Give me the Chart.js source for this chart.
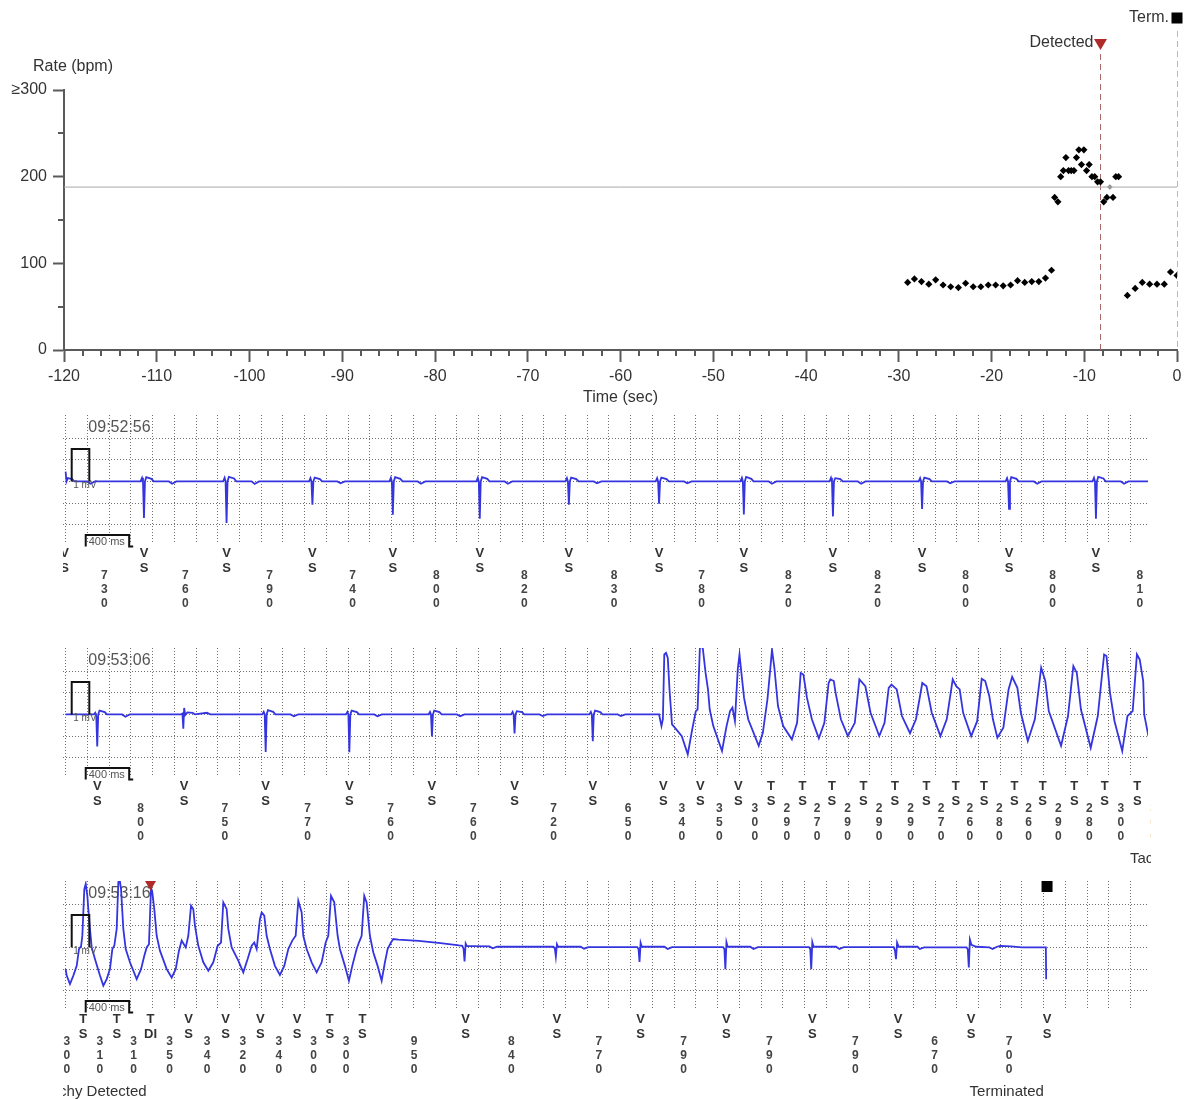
<!DOCTYPE html>
<html>
<head>
<meta charset="utf-8">
<title>Rate plot and EGM strips</title>
<script src="https://cdn.jsdelivr.net/npm/chart.js@4.4.0/dist/chart.umd.min.js"></script>
<style>
  body { margin: 0; background: #fff; }
  #wrap { position: relative; width: 1188px; height: 1099px; overflow: hidden; }
  #wrap canvas { position: absolute; left: 0; }
</style>
</head>
<body>
<div id="wrap">
  <canvas id="rate" width="1188" height="410" style="top:0px"></canvas>
  <canvas id="strip1" width="1188" height="233" style="top:400px"></canvas>
  <canvas id="strip2" width="1188" height="233" style="top:633px"></canvas>
  <canvas id="strip3" width="1188" height="233" style="top:866px"></canvas>
</div>
<script>
const FONT = '"Liberation Sans", Arial, sans-serif';

// ---- rate plot (sec before termination, bpm) ----
const rateTime = [-29.04, -28.31, -27.55, -26.76, -26.02, -25.22, -24.40, -23.57, -22.79, -21.97,
  -21.15, -20.35, -19.55, -18.74, -17.94, -17.19, -16.42, -15.66, -14.90, -14.18, -13.53,
  -13.19, -12.84, -12.54, -12.25, -11.98, -11.69, -11.40, -11.11, -10.84, -10.58, -10.30, -10.04,
  -9.75, -9.47, -9.17, -8.87, -8.56, -8.25, -7.90, -7.56, -6.90, -6.60, -6.30,
  -5.35, -4.51, -3.74, -2.95, -2.16, -1.37, -0.70, 0.00];
const rateBpm = [78, 82, 79, 76, 81, 75, 73, 72, 77, 73,
  73, 75, 75, 74, 75, 80, 78, 79, 79, 83, 92,
  176, 171, 200, 207, 222, 207, 207, 207, 222, 231, 214, 231,
  207, 214, 200, 200, 194, 194, 171, 176, 176, 200, 200,
  63, 71, 78, 76, 76, 76, 90, 86];
const greyTime = [-7.24];
const greyBpm = [188];
const thresholdBpm = 188;
const detectTime = -8.25;
const termTime = 0;
const rateTicks = [0, 100, 200, 300];

// ---- EGM strips: time in s from strip start, amplitude in mV ----
const stripStamps = ['09:52:56', '09:53:06', '09:53:16'];
const gridMv = [-1.333, -0.667, 0, 0.667, 1.333];
const calPulse = [[0.056, 0], [0.056, 1.0], [0.218, 1.0], [0.218, 0]];

const strip1Marks = [-0.009, 0.721, 1.481, 2.271, 3.011, 3.811, 4.631, 5.461, 6.241, 7.061, 7.881, 8.681, 9.481, 10.291];
const strip1Kinds = ['VS', 'VS', 'VS', 'VS', 'VS', 'VS', 'VS', 'VS', 'VS', 'VS', 'VS', 'VS', 'VS', 'VS'];
const strip1Intervals = [730, 760, 790, 740, 800, 820, 830, 780, 820, 820, 800, 800, 810];
const strip1Trace = [
  [0.000, 0.30], [0.008, 0], [0.020, 0.10], [0.060, 0.07], [0.080, 0], [0.200, 0], [0.230, -0.07], [0.270, 0],
  [0.690, 0], [0.703, 0.11], [0.712, 0], [0.721, -1.13], [0.730, 0], [0.742, 0.13], [0.790, 0.08], [0.810, 0], [0.950, 0], [0.980, -0.07], [1.020, 0],
  [1.450, 0], [1.463, 0.11], [1.472, 0], [1.481, -1.28], [1.490, 0], [1.502, 0.14], [1.550, 0.09], [1.570, 0], [1.710, 0], [1.740, -0.08], [1.780, 0],
  [2.240, 0], [2.253, 0.10], [2.262, 0], [2.271, -0.72], [2.280, 0], [2.292, 0.12], [2.340, 0.07], [2.360, 0], [2.500, 0], [2.530, -0.06], [2.570, 0],
  [2.980, 0], [2.993, 0.11], [3.002, 0], [3.011, -1.03], [3.020, 0], [3.032, 0.13], [3.080, 0.08], [3.100, 0], [3.240, 0], [3.270, -0.07], [3.310, 0],
  [3.780, 0], [3.793, 0.11], [3.802, 0], [3.811, -1.15], [3.820, 0], [3.832, 0.13], [3.880, 0.08], [3.900, 0], [4.040, 0], [4.070, -0.07], [4.110, 0],
  [4.600, 0], [4.613, 0.10], [4.622, 0], [4.631, -0.72], [4.640, 0], [4.652, 0.12], [4.700, 0.07], [4.720, 0], [4.860, 0], [4.890, -0.06], [4.930, 0],
  [5.430, 0], [5.443, 0.10], [5.452, 0], [5.461, -0.69], [5.470, 0], [5.482, 0.12], [5.530, 0.07], [5.550, 0], [5.690, 0], [5.720, -0.06], [5.760, 0],
  [6.210, 0], [6.223, 0.11], [6.232, 0], [6.241, -1.02], [6.250, 0], [6.262, 0.14], [6.310, 0.08], [6.330, 0], [6.470, 0], [6.500, -0.07], [6.540, 0],
  [7.030, 0], [7.043, 0.11], [7.052, 0], [7.061, -1.08], [7.070, 0], [7.082, 0.10], [7.130, 0.07], [7.150, 0], [7.290, 0], [7.320, -0.07], [7.360, 0],
  [7.850, 0], [7.863, 0.10], [7.872, 0], [7.881, -0.85], [7.890, 0], [7.902, 0.12], [7.950, 0.07], [7.970, 0], [8.110, 0], [8.140, -0.06], [8.180, 0],
  [8.650, 0], [8.663, 0.10], [8.672, 0], [8.681, -0.85], [8.690, 0], [8.702, 0.13], [8.750, 0.08], [8.770, 0], [8.910, 0], [8.940, -0.07], [8.980, 0],
  [9.450, 0], [9.463, 0.11], [9.472, 0], [9.481, -1.15], [9.490, 0], [9.502, 0.14], [9.550, 0.09], [9.570, 0], [9.710, 0], [9.740, -0.07], [9.780, 0], [9.960, 0]
];

const strip2Marks = [0.291, 1.091, 1.841, 2.611, 3.371, 4.131, 4.851, 5.501, 5.841, 6.191, 6.491, 6.781, 7.051, 7.341,
  7.631, 7.921, 8.191, 8.451, 8.731, 8.991, 9.281, 9.561, 9.861, 10.161];
const strip2Kinds = ['VS', 'VS', 'VS', 'VS', 'VS', 'VS', 'VS', 'VS', 'VS', 'VS', 'TS', 'TS', 'TS', 'TS',
  'TS', 'TS', 'TS', 'TS', 'TS', 'TS', 'TS', 'TS', 'TS', 'TS'];
const strip2Intervals = [800, 750, 770, 760, 760, 720, 650, 340, 350, 300, 290, 270, 290, 290, 290, 270, 260, 280, 260, 290, 280, 300, 300];
const strip2Trace = [
  [0.000, 0],
  [0.260, 0], [0.273, 0.05], [0.282, -0.05], [0.291, -0.99], [0.300, 0], [0.312, 0.12], [0.360, 0.07], [0.380, 0], [0.520, 0], [0.550, -0.07], [0.590, 0],
  [1.060, 0], [1.075, 0.03], [1.083, -0.44], [1.091, 0.20], [1.100, -0.02], [1.120, 0.06], [1.170, 0.05], [1.190, 0], [1.300, 0.05], [1.330, 0],
  [1.810, 0], [1.823, 0.08], [1.832, 0], [1.841, -1.16], [1.850, 0], [1.862, 0.13], [1.910, 0.08], [1.930, 0], [2.070, 0], [2.100, -0.06], [2.140, 0],
  [2.580, 0], [2.593, 0.08], [2.602, 0], [2.611, -1.17], [2.620, 0], [2.632, 0.12], [2.680, 0.07], [2.700, 0], [2.840, 0], [2.870, -0.06], [2.910, 0],
  [3.340, 0], [3.353, 0.08], [3.362, 0], [3.371, -0.68], [3.380, 0], [3.392, 0.12], [3.440, 0.07], [3.460, 0], [3.600, 0], [3.630, -0.06], [3.670, 0],
  [4.100, 0], [4.113, 0.08], [4.122, 0], [4.131, -0.59], [4.140, 0], [4.152, 0.10], [4.200, 0.07], [4.220, 0], [4.360, 0], [4.390, -0.05], [4.430, 0],
  [4.820, 0], [4.833, 0.08], [4.842, 0], [4.851, -0.83], [4.860, 0], [4.872, 0.12], [4.920, 0.07], [4.940, 0], [5.080, 0], [5.110, -0.05], [5.150, 0],
  [5.461, 0], [5.483, -0.36], [5.496, -0.15], [5.509, 1.85], [5.525, 1.90], [5.541, 1.74], [5.557, 0.77], [5.580, -0.31], [5.606, -0.41],
  [5.670, -0.67], [5.725, -1.23], [5.766, -0.46], [5.799, 0.10], [5.815, 0.15], [5.837, 2.10], [5.863, 2.05], [5.889, 1.28], [5.911, 0.77],
  [5.927, 0.15], [5.960, -0.36], [6.040, -1.13], [6.082, -0.36], [6.114, 0.10], [6.136, 0.21], [6.159, -0.21], [6.185, 1.39], [6.201, 1.85],
  [6.217, 1.33], [6.243, 0.51], [6.281, -0.15], [6.378, -0.97], [6.416, -0.56], [6.458, 0.46], [6.481, 1.28], [6.500, 2.00], [6.522, 1.44],
  [6.555, 0.26], [6.603, -0.36], [6.683, -0.77], [6.731, -0.26], [6.764, 1.28], [6.789, 1.23], [6.822, 0.51], [6.867, -0.15], [6.931, -0.74],
  [6.982, -0.26], [7.021, 0.97], [7.037, 1.08], [7.069, 1.03], [7.085, 0.67], [7.134, -0.15], [7.198, -0.67], [7.262, -0.26], [7.304, 1.08],
  [7.359, 0.87], [7.407, 0.05], [7.487, -0.67], [7.536, -0.26], [7.574, 0.82], [7.600, 0.92], [7.648, 0.77], [7.696, -0.05], [7.770, -0.58],
  [7.825, -0.15], [7.883, 0.97], [7.922, 0.87], [7.970, 0.05], [8.050, -0.67], [8.108, -0.15], [8.163, 1.08], [8.195, 0.87], [8.227, 0.77],
  [8.259, 0.05], [8.333, -0.67], [8.388, -0.21], [8.430, 1.10], [8.462, 1.03], [8.500, 0.56], [8.533, -0.15], [8.574, -0.72], [8.629, -0.41],
  [8.677, 0.77], [8.710, 1.16], [8.758, 0.82], [8.790, 0.05], [8.854, -0.82], [8.919, -0.15], [8.977, 1.44], [9.015, 1.03], [9.047, 0.10],
  [9.160, -0.97], [9.224, -0.05], [9.273, 1.49], [9.305, 1.28], [9.343, 0.15], [9.433, -1.03], [9.498, -0.05], [9.556, 1.85], [9.578, 1.80],
  [9.610, 0.67], [9.652, -0.21], [9.723, -1.13], [9.771, -0.05], [9.819, 0.10], [9.858, 1.85], [9.884, 1.69], [9.916, 1.03], [9.925, 0],
  [9.964, -0.67]
];

const strip3Marks = [-0.139, 0.161, 0.471, 0.781, 1.131, 1.471, 1.791, 2.131, 2.431, 2.731, 3.681, 4.521, 5.291, 6.081, 6.871, 7.661, 8.331, 9.031];
const strip3Kinds = ['TS', 'TS', 'TS', 'TDI', 'VS', 'VS', 'VS', 'VS', 'TS', 'TS', 'VS', 'VS', 'VS', 'VS', 'VS', 'VS', 'VS', 'VS'];
const strip3Intervals = [300, 310, 310, 350, 340, 320, 340, 300, 300, 950, 840, 770, 790, 790, 790, 670, 700];
const strip3Trace = [
  [0.000, -0.67], [0.010, -0.87], [0.040, -1.13], [0.071, -0.87], [0.102, -0.57], [0.123, -0.05], [0.142, 0.03], [0.154, 0.36],
  [0.172, 1.80], [0.185, 1.96], [0.200, 1.59], [0.209, 1.18], [0.224, 0.57], [0.240, 0.00], [0.270, -0.36], [0.316, -0.87],
  [0.347, -1.18], [0.378, -0.98], [0.408, -0.67], [0.430, -0.05], [0.448, 0.05], [0.470, 0.57], [0.485, 2.01], [0.494, 2.16],
  [0.510, 1.80], [0.531, 0.57], [0.553, -0.05], [0.592, -0.46], [0.654, -0.98], [0.694, -0.67], [0.724, -0.26], [0.746, 0.00],
  [0.767, 0.10], [0.786, 1.85], [0.798, 1.70], [0.816, 1.18], [0.838, 0.36], [0.868, -0.10], [0.930, -0.67], [0.976, -0.93],
  [1.013, -0.67], [1.043, -0.10], [1.068, 0.21], [1.105, 0.00], [1.129, 0.36], [1.154, 1.29], [1.175, 1.18], [1.190, 0.67],
  [1.221, 0.05], [1.267, -0.46], [1.313, -0.72], [1.359, -0.46], [1.399, 0.05], [1.430, 0.15], [1.451, 1.39], [1.482, 1.18],
  [1.497, 0.57], [1.528, 0.00], [1.589, -0.41], [1.635, -0.77], [1.675, -0.36], [1.712, 0.05], [1.736, 0.15], [1.758, -0.05],
  [1.788, 0.87], [1.804, 1.08], [1.828, 0.98], [1.850, 0.36], [1.880, -0.05], [1.926, -0.57], [1.972, -0.85], [2.012, -0.57],
  [2.049, -0.05], [2.086, 0.21], [2.117, 0.36], [2.141, 1.44], [2.172, 1.08], [2.187, 0.36], [2.218, -0.05], [2.264, -0.46],
  [2.310, -0.77], [2.356, -0.46], [2.393, 0.15], [2.417, 0.36], [2.442, 1.59], [2.472, 1.39], [2.503, 0.36], [2.524, -0.05],
  [2.570, -0.57], [2.607, -1.03], [2.638, -0.57], [2.678, -0.05], [2.699, 0.15], [2.724, 0.36], [2.748, 1.59], [2.770, 1.39],
  [2.800, 0.36], [2.831, -0.15], [2.871, -0.57], [2.908, -1.03], [2.938, -0.46], [2.963, -0.05], [2.994, 0.15], [3.015, 0.26],
  [3.061, 0.24], [3.250, 0.20], [3.450, 0.13], [3.620, 0.06],
  [3.650, 0.05], [3.662, -0.05], [3.671, -0.43], [3.681, 0.12], [3.692, 0.04], [3.740, 0.04], [3.900, 0.03], [3.930, -0.03], [3.970, 0.02],
  [4.490, 0.02], [4.502, -0.04], [4.511, -0.28], [4.521, 0.10], [4.532, 0.02], [4.740, 0.02], [4.770, -0.04], [4.810, 0.01],
  [5.260, 0.01], [5.272, -0.05], [5.281, -0.45], [5.291, 0.14], [5.302, 0.02], [5.510, 0.02], [5.540, -0.05], [5.580, 0.01],
  [6.050, 0.01], [6.062, -0.05], [6.071, -0.67], [6.081, 0.16], [6.092, 0.02], [6.300, 0.02], [6.330, -0.05], [6.370, 0.01],
  [6.840, 0.01], [6.852, -0.05], [6.861, -0.67], [6.871, 0.16], [6.882, 0.02], [7.090, 0.02], [7.120, -0.05], [7.160, 0.01],
  [7.620, 0.01], [7.632, -0.10], [7.641, -0.36], [7.651, 0.15], [7.665, 0.02], [7.840, 0.02], [7.860, -0.05], [7.900, 0],
  [8.290, 0], [8.302, -0.06], [8.311, -0.62], [8.321, 0.24], [8.335, 0.08], [8.380, 0.02], [8.500, 0], [8.530, -0.05], [8.570, 0.02],
  [8.600, 0.05], [8.700, 0.03], [8.800, 0], [9.020, 0], [9.023, -0.98]
];

const toXY = arr => arr.map(p => ({ x: p[0], y: p[1] }));

// ---------- rate plot ----------
const rateDecor = {
  id: 'rateDecor',
  beforeDatasetsDraw(chart) {
    const { ctx, chartArea: a, scales: { x } } = chart;
    ctx.save();
    ctx.lineWidth = 1;
    ctx.setLineDash([6, 4]);
    const xd = Math.round(x.getPixelForValue(detectTime)) + 0.5;
    ctx.strokeStyle = '#a86868';
    ctx.beginPath(); ctx.moveTo(xd, a.top - 36); ctx.lineTo(xd, a.bottom); ctx.stroke();
    const xt = Math.round(x.getPixelForValue(termTime)) + 0.5;
    ctx.strokeStyle = '#b8b8b8';
    ctx.beginPath(); ctx.moveTo(xt, a.top - 59); ctx.lineTo(xt, a.bottom); ctx.stroke();
    ctx.restore();
  },
  afterDraw(chart) {
    const { ctx, chartArea: a, scales: { x, y } } = chart;
    ctx.save();
    // minor ticks
    ctx.strokeStyle = '#5a5a5a';
    ctx.lineWidth = 2;
    ctx.beginPath();
    for (let k = -59; k <= -1; k++) {
      if (k % 5 === 0) continue;
      const px = Math.round(x.getPixelForValue(k * 2));
      ctx.moveTo(px, a.bottom); ctx.lineTo(px, a.bottom + 6);
    }
    [50, 150, 250].forEach(v => {
      const py = Math.round(y.getPixelForValue(v));
      ctx.moveTo(a.left - 6, py); ctx.lineTo(a.left, py);
    });
    ctx.stroke();
    // labels
    ctx.fillStyle = '#333';
    ctx.font = '16px ' + FONT;
    ctx.textBaseline = 'middle';
    ctx.textAlign = 'center';
    ctx.fillText('Rate (bpm)', a.left + 9, a.top - 23);
    const xd = x.getPixelForValue(detectTime);
    ctx.textAlign = 'right';
    ctx.fillText('Detected', xd - 7, a.top - 47);
    ctx.fillStyle = '#b02a2a';
    ctx.beginPath(); ctx.moveTo(xd - 6.5, a.top - 51); ctx.lineTo(xd + 6.5, a.top - 51); ctx.lineTo(xd, a.top - 40); ctx.closePath(); ctx.fill();
    const xt = x.getPixelForValue(termTime);
    ctx.fillStyle = '#333';
    ctx.fillText('Term.', xt - 8, a.top - 72);
    ctx.fillStyle = '#000';
    ctx.fillRect(xt - 5.5, a.top - 77.5, 11, 11);
    ctx.restore();
  }
};

new Chart(document.getElementById('rate'), {
  type: 'scatter',
  data: {
    datasets: [
      {
        data: [{ x: -120, y: thresholdBpm }, { x: 0, y: thresholdBpm }],
        showLine: true, borderColor: '#a8a8a8', borderWidth: 1, pointRadius: 0
      },
      {
        data: rateTime.map((t, i) => ({ x: t, y: rateBpm[i] })),
        pointStyle: 'rectRot', pointRadius: 3.6, backgroundColor: '#000', borderWidth: 0
      },
      {
        data: greyTime.map((t, i) => ({ x: t, y: greyBpm[i] })),
        pointStyle: 'rectRot', pointRadius: 2.8, backgroundColor: '#8c8c8c', borderWidth: 0
      }
    ]
  },
  options: {
    responsive: false,
    animation: false,
    events: [],
    layout: { padding: { top: 90, right: 11, left: 0, bottom: 0 } },
    plugins: { legend: { display: false }, tooltip: { enabled: false } },
    scales: {
      x: {
        type: 'linear', min: -120, max: 0,
        ticks: { stepSize: 10, color: '#333', font: { size: 16, family: FONT }, padding: 5, maxRotation: 0, autoSkip: false },
        grid: { drawOnChartArea: false, tickLength: 12, tickColor: '#5a5a5a', tickWidth: 2 },
        border: { color: '#5a5a5a', width: 2 },
        title: { display: true, text: 'Time (sec)', color: '#333', font: { size: 16, family: FONT }, padding: { top: 2, bottom: 3 } },
        afterFit: s => { s.height = 60; }
      },
      y: {
        min: 0, max: 300,
        afterBuildTicks: s => { s.ticks = rateTicks.map(v => ({ value: v })); },
        ticks: { color: '#333', font: { size: 16, family: FONT }, padding: 6, callback: v => (v === 300 ? '≥300' : v) },
        grid: { drawOnChartArea: false, tickLength: 11, tickColor: '#5a5a5a', tickWidth: 2 },
        border: { color: '#5a5a5a', width: 2 },
        afterFit: s => { s.width = 64; }
      }
    }
  },
  plugins: [rateDecor]
});

// ---------- EGM strips ----------
function stripDecor(cfg) {
  return {
    id: 'stripDecor',
    beforeDraw(chart) {
      const { ctx, chartArea: a, scales: { x } } = chart;
      ctx.save();
      ctx.fillStyle = '#555';
      ctx.font = '16px ' + FONT;
      ctx.textBaseline = 'middle';
      ctx.fillText(cfg.stamp, x.getPixelForValue(0.2) + 1, a.top + 13);
      ctx.restore();
    },
    afterDraw(chart) {
      const { ctx, chartArea: a, scales: { x, y } } = chart;
      const base = y.getPixelForValue(0);
      ctx.save();
      ctx.fillStyle = '#555';
      ctx.font = '10px ' + FONT;
      ctx.textBaseline = 'middle';
      ctx.textAlign = 'left';
      ctx.fillText('1 mV', x.getPixelForValue(0.07), base + 4);
      const b0 = x.getPixelForValue(0.185), b1 = x.getPixelForValue(0.585);
      ctx.strokeStyle = '#111';
      ctx.lineWidth = 2;
      ctx.beginPath();
      ctx.moveTo(b0, base + 65); ctx.lineTo(b0, base + 53.5); ctx.lineTo(b1, base + 53.5);
      ctx.lineTo(b1, base + 65); ctx.lineTo(b1 + 4, base + 65);
      ctx.stroke();
      ctx.font = '11px ' + FONT;
      ctx.fillText('400 ms', b0 + 3, base + 61);
      (cfg.symbols || []).forEach(s => {
        const px = x.getPixelForValue(s.t);
        if (s.kind === 'tri') {
          ctx.fillStyle = '#b02a2a';
          ctx.beginPath(); ctx.moveTo(px - 5.5, a.top); ctx.lineTo(px + 5.5, a.top); ctx.lineTo(px, a.top + 9.5); ctx.closePath(); ctx.fill();
        } else {
          ctx.fillStyle = '#000';
          ctx.fillRect(px - 5.5, a.top, 11, 11);
        }
      });
      // marker channel
      ctx.beginPath(); ctx.rect(63, 0, 1151 - 63, chart.height); ctx.clip();
      ctx.textAlign = 'center';
      ctx.fillStyle = '#333';
      ctx.font = 'bold 13px ' + FONT;
      cfg.marks.forEach((t, i) => {
        const px = x.getPixelForValue(t);
        const k = cfg.kinds[i];
        ctx.fillText(k[0], px, base + 72);
        ctx.fillText(k.slice(1), px, base + 87.5);
      });
      ctx.font = 'bold 12px ' + FONT;
      cfg.intervals.forEach((v, i) => {
        const px = (x.getPixelForValue(cfg.marks[i]) + x.getPixelForValue(cfg.marks[i + 1])) / 2;
        ctx.fillStyle = (cfg.accent && cfg.accent[i]) || '#444';
        String(v).split('').forEach((d, j) => ctx.fillText(d, px, base + 94 + j * 14.2));
      });
      ctx.fillStyle = '#333';
      ctx.font = '15px ' + FONT;
      (cfg.notes || []).forEach(n => ctx.fillText(n.text, x.getPixelForValue(n.t), base + 144));
      ctx.restore();
    }
  };
}

function makeStrip(id, trace, cfg) {
  const gridOpts = { color: '#707070', lineWidth: 1, drawTicks: false };
  const borderOpts = { display: false, dash: [1, 2] };
  return new Chart(document.getElementById(id), {
    type: 'line',
    data: {
      datasets: [
        { data: toXY(calPulse), borderColor: '#111', borderWidth: 2, pointRadius: 0, tension: 0 },
        { data: toXY(trace), borderColor: '#3434e0', borderWidth: 1.8, pointRadius: 0, tension: 0 }
      ]
    },
    options: {
      responsive: false,
      animation: false,
      events: [],
      layout: { padding: { top: 15, right: 40, left: 0, bottom: 0 } },
      plugins: { legend: { display: false }, tooltip: { enabled: false } },
      scales: {
        x: {
          type: 'linear', min: -0.025, max: 9.96,
          afterBuildTicks: s => {
            const t = [];
            for (let k = 0; k <= 49; k++) t.push({ value: k / 5 });
            s.ticks = t;
          },
          ticks: { display: false },
          grid: gridOpts,
          border: borderOpts,
          afterFit: s => { s.height = 89.4; }
        },
        y: {
          min: -1.92, max: 2.05,
          afterBuildTicks: s => { s.ticks = gridMv.map(v => ({ value: v })); },
          ticks: { display: false },
          grid: gridOpts,
          border: borderOpts,
          afterFit: s => { s.width = 62.9; }
        }
      }
    },
    plugins: [stripDecor(cfg)]
  });
}

makeStrip('strip1', strip1Trace, {
  stamp: stripStamps[0], marks: strip1Marks, kinds: strip1Kinds, intervals: strip1Intervals
});
makeStrip('strip2', strip2Trace, {
  stamp: stripStamps[1], marks: strip2Marks, kinds: strip2Kinds, intervals: strip2Intervals,
  accent: { 22: '#e8951e' },
  notes: [{ t: 10.27, text: 'Tachy Detected' }]
});
makeStrip('strip3', strip3Trace, {
  stamp: stripStamps[2], marks: strip3Marks, kinds: strip3Kinds, intervals: strip3Intervals,
  notes: [{ t: 0.27, text: 'Tachy Detected' }, { t: 8.66, text: 'Terminated' }],
  symbols: [{ t: 0.781, kind: 'tri' }, { t: 9.031, kind: 'sq' }]
});
</script>
</body>
</html>
